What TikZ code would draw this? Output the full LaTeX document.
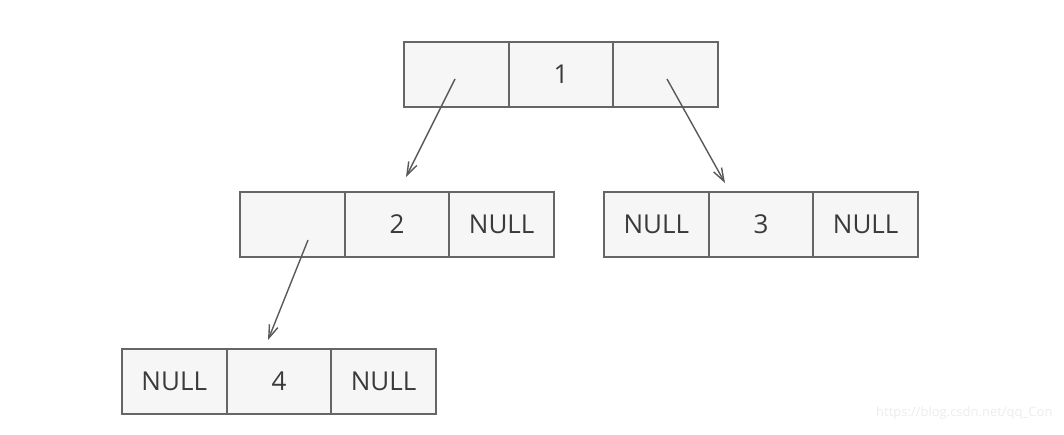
\documentclass[tikz,border=0pt]{standalone}
\usepackage{fontspec}
\setmainfont{Open Sans}
\usetikzlibrary{arrows.meta}
\definecolor{cellfill}{HTML}{F6F6F6}
\definecolor{cellline}{HTML}{666666}
\definecolor{txt}{HTML}{3A3A3A}
\tikzset{
  cell/.style={draw=cellline, line width=1.8pt, fill=cellfill, minimum width=104.7pt, minimum height=65pt, inner sep=0pt, font=\fontsize{26}{30}\selectfont, text=txt, anchor=north west},
  ptr/.style={draw=black!65, line width=1.4pt, -{Straight Barb[length=13pt,width=9pt,line width=1.4pt]}}
}
\begin{document}
\begin{tikzpicture}[x=1pt,y=-1pt]
\useasboundingbox[fill=white] (0,0) rectangle (1064,434);
% node 1
\node[cell] (n1l) at (403,41) {};
\node[cell] (n1m) at (507.7,41) {1};
\node[cell] (n1r) at (612.4,41) {};
% node 2
\node[cell] (n2l) at (239,191) {};
\node[cell] (n2m) at (343.7,191) {2};
\node[cell] (n2r) at (448.4,191) {NULL};
% node 3
\node[cell] (n3l) at (603,191) {NULL};
\node[cell] (n3m) at (707.7,191) {3};
\node[cell] (n3r) at (812.4,191) {NULL};
% node 4
\node[cell] (n4l) at (121,348) {NULL};
\node[cell] (n4m) at (225.7,348) {4};
\node[cell] (n4r) at (330.4,348) {NULL};
% pointer starts and ends
\coordinate (p1) at (455,79);
\coordinate (e1) at (406,177);
\coordinate (p2) at (667,79);
\coordinate (e2) at (725,183);
\coordinate (p3) at (308,240);
\coordinate (e3) at (268,340);
\draw[ptr] (p1) -- (e1);
\draw[ptr] (p2) -- (e2);
\draw[ptr] (p3) -- (e3);
\node[text=black!7, font=\fontsize{13}{15}\selectfont, anchor=east] (wm) at (1056,413) {https://blog.csdn.net/qq\_Con};
\end{tikzpicture}
\end{document}
